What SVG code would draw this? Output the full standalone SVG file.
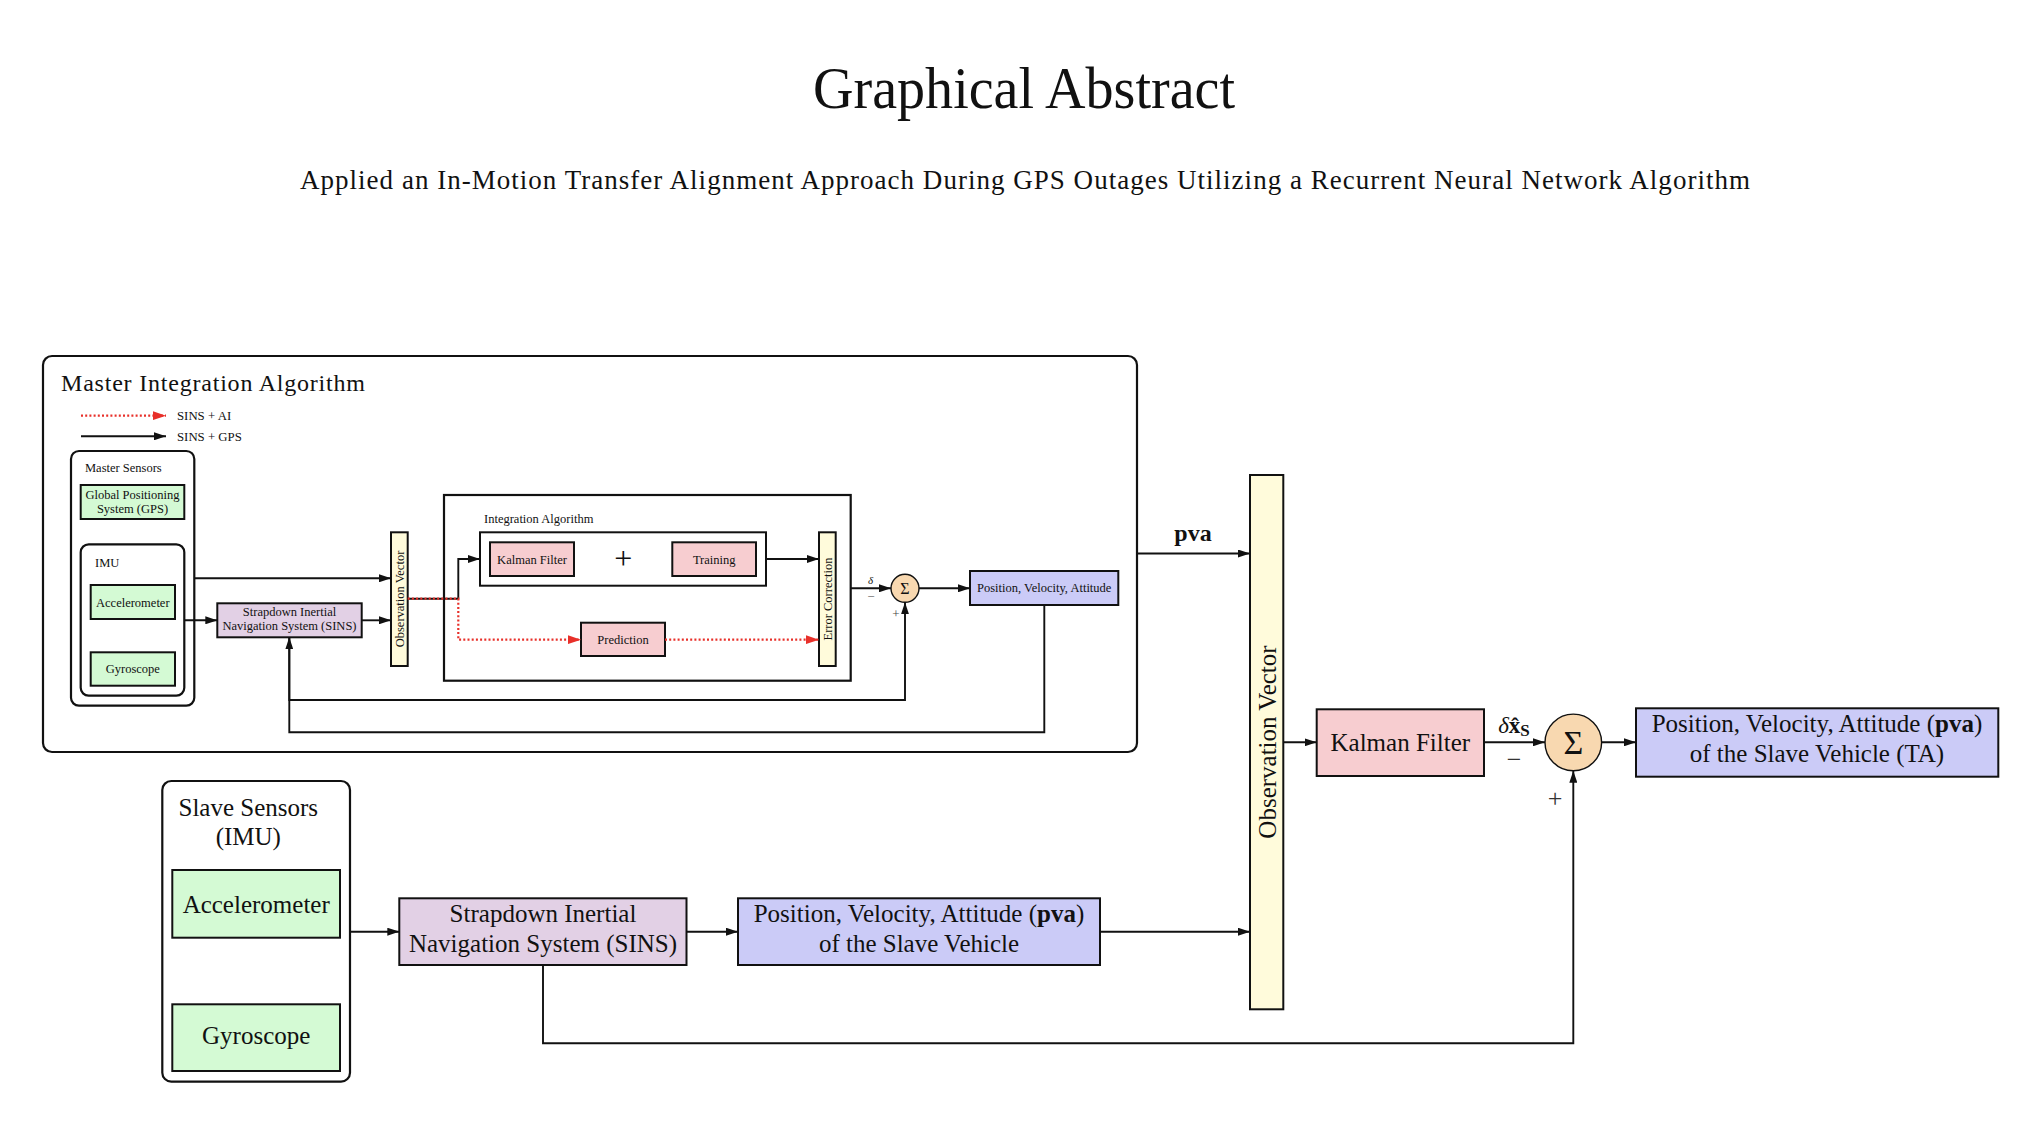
<svg xmlns="http://www.w3.org/2000/svg" width="2040" height="1142" viewBox="0 0 2040 1142">
<style>
text { font-family: "Liberation Serif", "Times New Roman", serif; fill: #111; }
.sm { font-size: 12.5px; text-anchor: middle; }
.lg { font-size: 25px; text-anchor: middle; }
.box { stroke: #111; stroke-width: 2; }
.frame { fill: none; stroke: #111; stroke-width: 2.2; }
.green { fill: #d4fad4; }
.lav { fill: #e2d0e5; }
.blue { fill: #cbcbf7; }
.pink { fill: #f7cdd0; }
.yel { fill: #fffbdb; }
.peach { fill: #f8d8b0; stroke: #111; stroke-width: 1.4; }
.white { fill: #fff; }
.c { fill: none; stroke: #111; stroke-width: 1.9; }
.cr { fill: none; stroke: #e8302a; stroke-width: 2.2; stroke-dasharray: 2 2.2; }
</style>
<defs>
<marker id="ah" viewBox="0 0 12 8" refX="12" refY="4" markerWidth="12" markerHeight="8" markerUnits="userSpaceOnUse" orient="auto">
<path d="M0,0 L12,4 L0,8 z" fill="#111"/>
</marker>
<marker id="ahr" viewBox="0 0 12 8" refX="12" refY="4" markerWidth="13" markerHeight="9" markerUnits="userSpaceOnUse" orient="auto">
<path d="M0,0 L12,4 L0,8 z" fill="#e8302a"/>
</marker>
</defs>
<rect width="2040" height="1142" fill="#fff"/>

<g id="title">
<text x="1024" y="108" font-size="60" text-anchor="middle" textLength="422" lengthAdjust="spacingAndGlyphs">Graphical Abstract</text>
</g>
<g id="subtitle">
<text x="1025" y="189" font-size="27" text-anchor="middle" textLength="1450">Applied an In-Motion Transfer Alignment Approach During GPS Outages Utilizing a Recurrent Neural Network Algorithm</text>
</g>

<g id="master-integration-algorithm">
<rect x="43" y="356" width="1094" height="396" rx="9" class="frame" stroke-width="2.4"/>
<text x="61" y="391" font-size="24" textLength="304">Master Integration Algorithm</text>
</g>

<g id="legend">
<line x1="81" y1="415.7" x2="166" y2="415.7" class="cr" marker-end="url(#ahr)"/>
<text x="177" y="420" font-size="12.8">SINS + AI</text>
<line x1="81" y1="436.3" x2="166" y2="436.3" class="c" marker-end="url(#ah)"/>
<text x="177" y="440.5" font-size="12.8">SINS + GPS</text>
</g>

<g id="master-sensors">
<rect x="71" y="451" width="123.3" height="254.7" rx="8" class="frame"/>
<text x="85" y="472" font-size="12.5">Master Sensors</text>
</g>
<g id="gps">
<rect x="80.7" y="485" width="103.6" height="34" class="box green"/>
<text x="132.5" y="498.5" class="sm">Global Positioning</text>
<text x="132.5" y="512.5" class="sm">System (GPS)</text>
</g>
<g id="imu-master">
<rect x="80.7" y="544.3" width="103.6" height="151.4" rx="8" class="frame"/>
<text x="95" y="566.7" font-size="12.5">IMU</text>
</g>
<g id="accelerometer-master">
<rect x="90.7" y="585" width="84.3" height="34" class="box green"/>
<text x="132.8" y="606.5" class="sm">Accelerometer</text>
</g>
<g id="gyroscope-master">
<rect x="90.7" y="652.3" width="84.3" height="33.4" class="box green"/>
<text x="132.8" y="673" class="sm">Gyroscope</text>
</g>
<g id="sins-master">
<rect x="217.3" y="603.3" width="144.4" height="34" class="box lav"/>
<text x="289.5" y="615.5" class="sm">Strapdown Inertial</text>
<text x="289.5" y="630" class="sm">Navigation System (SINS)</text>
</g>
<g id="observation-vector-master">
<rect x="391" y="532.3" width="16.7" height="133.7" class="box yel"/>
<text transform="translate(403.8 599) rotate(-90)" class="sm">Observation Vector</text>
</g>
<g id="integration-algorithm">
<rect x="444" y="495" width="406.7" height="185.7" class="frame" stroke-width="1.9"/>
<text x="484" y="522.7" font-size="12.5">Integration Algorithm</text>
</g>
<g id="kf-training">
<rect x="480" y="532.3" width="286" height="53.4" class="box white"/>
<text x="623.3" y="569" font-size="32" text-anchor="middle">+</text>
</g>
<g id="kalman-filter-master">
<rect x="490" y="542.3" width="84" height="33.7" class="box pink"/>
<text x="532" y="563.5" class="sm">Kalman Filter</text>
</g>
<g id="training">
<rect x="672.3" y="542.3" width="83.7" height="33.7" class="box pink"/>
<text x="714.2" y="563.5" class="sm">Training</text>
</g>
<g id="prediction">
<rect x="581" y="622.7" width="84" height="33.3" class="box pink"/>
<text x="623" y="644" class="sm">Prediction</text>
</g>
<g id="error-correction">
<rect x="819" y="532.3" width="16.7" height="133.7" class="box yel"/>
<text transform="translate(831.8 599) rotate(-90)" class="sm">Error Correction</text>
</g>
<g id="sum-master">
<circle cx="905" cy="588.3" r="14" class="peach"/>
<text x="905" y="594" font-size="16" text-anchor="middle">Σ</text>
<text x="870.5" y="584" font-size="11" font-style="italic" text-anchor="middle">δ</text>
<text x="871" y="600.5" font-size="13" text-anchor="middle" style="fill:#666">−</text>
<text x="896" y="617.5" font-size="13" text-anchor="middle" style="fill:#444">+</text>
</g>
<g id="pva-master">
<rect x="970" y="571" width="148.3" height="34" class="box blue"/>
<text x="1044.2" y="592" class="sm">Position, Velocity, Attitude</text>
</g>

<g id="observation-vector">
<rect x="1250" y="475" width="33.3" height="534.3" class="box yel"/>
<text transform="translate(1275.5 742) rotate(-90)" class="lg">Observation Vector</text>
</g>
<g id="kalman-filter">
<rect x="1316.7" y="709.3" width="167.3" height="66.7" class="box pink"/>
<text x="1400.3" y="751" class="lg">Kalman Filter</text>
</g>
<g id="sum">
<circle cx="1573.3" cy="742.4" r="28.3" class="peach"/>
<text x="1573.3" y="754" font-size="34" text-anchor="middle">Σ</text>
<text x="1514" y="768" font-size="26" text-anchor="middle" style="fill:#333">−</text>
<text x="1555" y="807" font-size="26" text-anchor="middle" style="fill:#333">+</text>
</g>
<g id="pva-ta">
<rect x="1636" y="708.3" width="362.3" height="68.4" class="box blue"/>
<text x="1817" y="731.7" class="lg">Position, Velocity, Attitude (<tspan font-weight="bold">pva</tspan>)</text>
<text x="1817" y="761.5" class="lg">of the Slave Vehicle (TA)</text>
</g>

<g id="slave-sensors">
<rect x="162.3" y="781" width="187.7" height="300.7" rx="9" class="frame"/>
<text x="248.3" y="815.7" class="lg">Slave Sensors</text>
<text x="248.3" y="845" class="lg">(IMU)</text>
</g>
<g id="accelerometer-slave">
<rect x="172.3" y="870" width="167.7" height="67.7" class="box green"/>
<text x="256.2" y="912.7" class="lg">Accelerometer</text>
</g>
<g id="gyroscope-slave">
<rect x="172.3" y="1004.3" width="167.7" height="66.7" class="box green"/>
<text x="256.2" y="1044" class="lg">Gyroscope</text>
</g>
<g id="sins-slave">
<rect x="399.3" y="898.3" width="287.2" height="66.7" class="box lav"/>
<text x="543" y="921.7" class="lg">Strapdown Inertial</text>
<text x="543" y="951.5" class="lg">Navigation System (SINS)</text>
</g>
<g id="pva-slave">
<rect x="738" y="898.3" width="362" height="66.7" class="box blue"/>
<text x="919" y="921.7" class="lg">Position, Velocity, Attitude (<tspan font-weight="bold">pva</tspan>)</text>
<text x="919" y="951.5" class="lg">of the Slave Vehicle</text>
</g>

<g id="connectors">
<path d="M194.3,578.3 H391" class="c" marker-end="url(#ah)"/>
<path d="M184.3,620.3 H217.3" class="c" marker-end="url(#ah)"/>
<path d="M361.7,620.3 H391" class="c" marker-end="url(#ah)"/>
<path d="M407.7,598.7 H458.3 V559 H480" class="c" marker-end="url(#ah)"/>
<path d="M407.7,598.7 H458.3 V639.7 H581" class="cr" marker-end="url(#ahr)"/>
<path d="M665,639.7 H819" class="cr" marker-end="url(#ahr)"/>
<path d="M766,559 H819" class="c" marker-end="url(#ah)"/>
<path d="M850.7,588.3 H891" class="c" marker-end="url(#ah)"/>
<path d="M919,588.3 H970" class="c" marker-end="url(#ah)"/>
<path d="M289.3,637.3 V700 H905 V602.3" class="c" marker-end="url(#ah)"/>
<path d="M1044.3,605 V732.3 H289.3 V637.3" class="c" marker-end="url(#ah)"/>
<path d="M1137,553.5 H1250" class="c" marker-end="url(#ah)"/>
<text x="1193" y="541" font-size="24" font-weight="bold" text-anchor="middle">pva</text>
<path d="M350,931.7 H399.3" class="c" marker-end="url(#ah)"/>
<path d="M686.5,931.7 H738" class="c" marker-end="url(#ah)"/>
<path d="M1100,931.7 H1250" class="c" marker-end="url(#ah)"/>
<path d="M1283.3,742.3 H1316.7" class="c" marker-end="url(#ah)"/>
<path d="M1484,742.3 H1545" class="c" marker-end="url(#ah)"/>
<text x="1514" y="733" font-size="23" text-anchor="middle"><tspan font-style="italic">δ</tspan><tspan font-weight="bold">x̂</tspan><tspan font-weight="bold" font-size="17" dy="3">S</tspan></text>
<path d="M1601.7,742.3 H1636" class="c" marker-end="url(#ah)"/>
<path d="M543,965 V1043.3 H1573.3 V770.7" class="c" marker-end="url(#ah)"/>
</g>
</svg>
